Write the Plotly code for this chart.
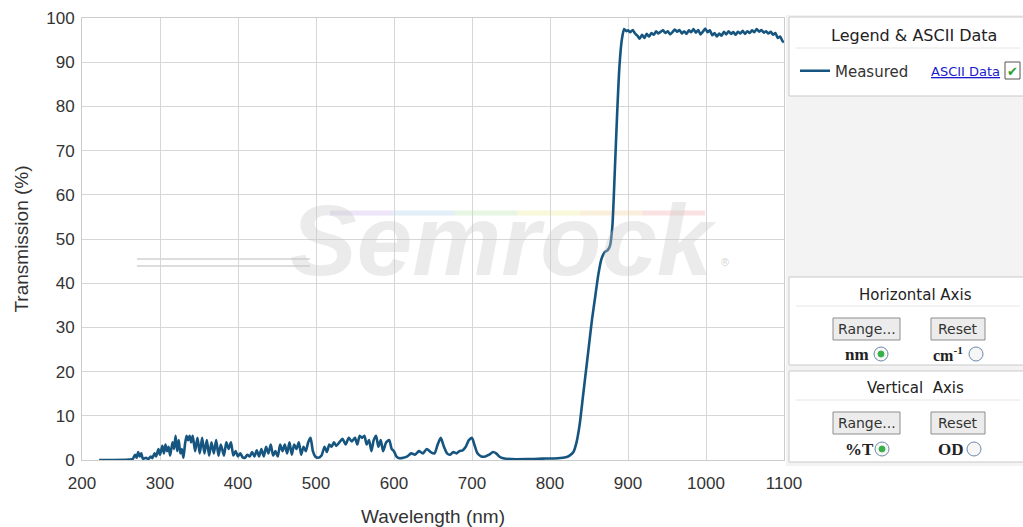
import plotly.graph_objects as go

# ---- data ----
wavelength_nm = [
    222, 240, 260, 265, 268, 270, 272, 274, 276, 278, 282, 285, 288, 290, 293, 295, 298, 300,
    303, 305, 307, 309, 311, 313, 316, 318, 320, 322, 324, 326, 328, 330, 332, 334, 336, 338,
    340, 342, 345, 348, 351, 354, 357, 360, 363, 366, 369, 372, 375, 378, 382, 385, 388, 391,
    394, 397, 400, 403, 406, 409, 412, 415, 418, 421, 424, 427, 430, 433, 436, 439, 442, 445,
    448, 451, 454, 457, 460, 463, 466, 469, 472, 475, 478, 481, 484, 487, 490, 493, 496, 499,
    503, 507, 511, 514, 517, 520, 523, 526, 530, 534, 538, 542, 546, 550, 553, 556, 559, 562,
    565, 568, 571, 574, 577, 580, 583, 586, 590, 594, 597, 600, 603, 607, 612, 617, 622, 627,
    632, 637, 642, 647, 652, 656, 660, 664, 668, 672, 676, 680, 684, 688, 692, 696, 700, 703,
    707, 712, 717, 722, 727, 731, 735, 740, 750, 770, 790, 810, 820, 825, 830, 834, 838, 842,
    846, 850, 854, 858, 862, 866, 870, 874, 877, 880, 883, 886, 889, 892, 895, 898,
    900, 903, 906, 909, 912, 915, 918, 921, 924, 927, 930, 933, 936, 939, 942, 945, 948, 951,
    954, 957, 960, 963, 966, 969, 972, 975, 978, 981, 984, 987, 990, 993, 996, 999, 1002, 1005,
    1008, 1011, 1014, 1017, 1020, 1023, 1026, 1029, 1032, 1035, 1038, 1041, 1044, 1047, 1050,
    1053, 1056, 1059, 1062, 1065, 1068, 1071, 1074, 1077, 1080, 1083, 1086, 1089, 1092, 1095,
    1098, 1100,
]
transmission_pct = [
    0.0, 0.0, 0.1, 0.2, 1.2, 0.5, 1.8, 0.8, 1.5, 0.3, 0.5, 0.2, 0.8, 0.4, 1.5, 0.8, 2.5, 1.2,
    3.2, 1.5, 3.5, 2.0, 3.0, 1.0, 4.0, 2.5, 5.5, 2.0, 4.5, 1.5, 2.5, 0.5, 3.5, 5.5, 4.5, 5.5,
    4.0, 5.5, 2.0, 5.0, 1.5, 5.0, 1.5, 4.5, 1.0, 4.0, 1.5, 4.5, 1.0, 3.5, 1.0, 4.0, 2.5, 4.0,
    1.0, 2.0, 0.8, 1.5, 0.6, 0.5, 1.2, 0.8, 1.8, 0.8, 2.2, 0.8, 2.5, 0.8, 3.0, 1.5, 3.5, 1.0,
    2.0, 0.8, 3.5, 2.0, 3.5, 1.5, 4.0, 1.2, 3.5, 2.5, 4.0, 1.2, 3.0, 2.0, 4.0, 5.0, 2.0, 0.8,
    0.5, 1.0, 3.0, 1.8, 3.5, 3.0, 4.0, 3.2, 4.0, 4.8, 3.5, 5.0, 4.2, 5.0, 3.5, 5.5, 5.0, 5.5,
    3.5, 4.5, 2.0, 4.5, 5.5, 3.0, 4.5, 2.0, 4.0, 4.5, 2.5, 2.0, 0.8, 0.4, 0.5, 0.8, 1.5, 1.2,
    2.0, 1.5, 2.5, 1.8, 1.5, 3.5, 5.0, 3.0, 1.5, 1.2, 1.8, 1.5, 2.0, 2.2, 3.0, 4.5, 5.0, 3.5,
    1.5, 0.8, 0.8, 1.2, 1.8, 1.5, 0.8, 0.4, 0.2, 0.2, 0.3, 0.4, 0.6, 1.0, 1.8, 4.0, 8.0, 14.0,
    20.0, 26.0, 32.0, 37.0, 42.0, 45.5, 47.0, 47.5, 48.5, 53.0, 65.0, 78.0, 89.0, 95.0, 97.5, 97.0,
    97.2, 96.8, 97.3, 96.5, 96.0, 95.3, 96.2, 95.5, 96.4, 95.8, 96.6, 96.2, 97.0, 96.5, 96.9, 97.2,
    96.6, 97.0, 96.3, 96.8, 97.4, 96.9, 97.3, 96.5, 97.0, 96.4, 97.2, 96.8, 97.5, 96.7, 97.3, 96.3,
    96.9, 97.6, 96.8, 97.2, 96.1, 96.6, 95.8, 96.5, 96.0, 96.9, 96.3, 97.0, 96.4, 96.8, 96.2, 96.9,
    96.5, 97.1, 96.4, 97.0, 96.6, 97.2, 96.8, 97.5, 96.9, 97.3, 96.7, 97.0, 96.5, 96.9, 96.2, 96.6,
    95.5, 95.8, 94.8, 94.5,
]
x_ticks = [200, 300, 400, 500, 600, 700, 800, 900, 1000, 1100]
y_ticks = [0, 10, 20, 30, 40, 50, 60, 70, 80, 90, 100]

# ---- layout geometry (pixels) ----
W, H = 1023, 527
L, R, T, B = 82, 784, 18, 460
FONT = "Liberation Sans, Arial, sans-serif"
PFONT = "DejaVu Sans, Verdana, sans-serif"
SERIF = "Liberation Serif, Times New Roman, serif"


def xp(px):
    return (px - L) / (R - L)


def yp(py):
    return (B - py) / (B - T)


fig = go.Figure()
fig.add_trace(go.Scatter(
    x=wavelength_nm, y=transmission_pct, mode="lines", name="Measured",
    line=dict(color="#16557f", width=2.6, shape="spline", smoothing=0.6),
))

shapes = []
annots = []


def rect(x0, y0, x1, y1, fill, line="#c9c9c9", lw=1, layer="above"):
    shapes.append(dict(type="rect", xref="paper", yref="paper",
                       x0=xp(x0), x1=xp(x1), y0=yp(y1), y1=yp(y0),
                       fillcolor=fill, line=dict(color=line, width=lw), layer=layer))


def hline(x0, x1, y, color, lw=1):
    shapes.append(dict(type="line", xref="paper", yref="paper",
                       x0=xp(x0), x1=xp(x1), y0=yp(y), y1=yp(y),
                       line=dict(color=color, width=lw)))


def text(x, y, s, size=14, color="#222", family=PFONT, xanchor="center"):
    annots.append(dict(xref="paper", yref="paper", x=xp(x), y=yp(y), text=s,
                       showarrow=False, xanchor=xanchor, yanchor="middle",
                       font=dict(size=size, color=color, family=family)))


def circle(cx, cy, r, fill, line):
    shapes.append(dict(type="circle", xref="paper", yref="paper",
                       x0=xp(cx - r), x1=xp(cx + r), y0=yp(cy + r), y1=yp(cy - r),
                       fillcolor=fill, line=dict(color=line, width=1)))


# watermark
wm_colors = ["#f4c0c0", "#f6dcb0", "#f2f0b0", "#c8ecc0", "#c0dcf0", "#d8c8f0"]
seg = (705 - 330) / len(wm_colors)
for i, c in enumerate(wm_colors[::-1]):
    shapes.append(dict(type="line", xref="paper", yref="paper",
                       x0=xp(330 + i * seg), x1=xp(330 + (i + 1) * seg), y0=yp(213), y1=yp(213),
                       line=dict(color=c, width=5), opacity=0.45, layer="below"))
for yy in (259, 266):
    shapes.append(dict(type="line", xref="paper", yref="paper",
                       x0=xp(137), x1=xp(310), y0=yp(yy), y1=yp(yy),
                       line=dict(color="#dddddd", width=2), layer="below"))
annots.append(dict(xref="paper", yref="paper", x=xp(503), y=yp(240), text="<b><i>Semrock</i></b>",
                   showarrow=False, xanchor="center", yanchor="middle",
                   font=dict(size=100, color="rgba(200,200,200,0.36)", family=FONT)))
text(725, 262, "®", size=11, color="rgba(190,190,190,0.7)", family=FONT)

# right-hand panel
rect(786, 15, 1030, 466, "#f3f3f3", line="#f3f3f3", lw=0)
# legend box
rect(789, 17, 1030, 96, "white")
text(914, 36, "Legend &amp; ASCII Data", size=16, color="#222")
hline(796, 1020, 48, "#e6e6e6")
text(929, 71, "<u>ASCII Data</u>", size=13, color="#1a1acc", xanchor="left")
rect(1005, 62, 1020, 79, "white", line="#555", lw=1)
text(1012.5, 71, "✔", size=13, color="#2aa02a")

# horizontal axis box
rect(789, 277, 1030, 365, "white")
text(915, 295, "Horizontal Axis", size=15, color="#222")
hline(796, 1020, 306, "#e6e6e6")
rect(833, 318, 900, 340, "#ececec", line="#8d8d8d")
text(866.5, 329, "Range...", size=14, color="#333")
rect(931, 318, 985, 340, "#ececec", line="#8d8d8d")
text(958, 329, "Reset", size=14, color="#333")
text(857, 354, "<b>nm</b>", size=17, color="#222", family=SERIF)
circle(881, 354, 7, "#f6f6f6", "#6c8aa8")
circle(881, 354, 3, "#38b048", "#38b048")
text(948, 354, "<b>cm<sup>-1</sup></b>", size=16, color="#222", family=SERIF)
circle(976, 354, 7, "#f6f6f6", "#6c8aa8")

# vertical axis box
rect(789, 371, 1030, 462, "white")
text(915, 388, "Vertical  Axis", size=15, color="#222")
hline(796, 1020, 400, "#e6e6e6")
rect(833, 412, 900, 434, "#ececec", line="#8d8d8d")
text(866.5, 423, "Range...", size=14, color="#333")
rect(931, 412, 985, 434, "#ececec", line="#8d8d8d")
text(958, 423, "Reset", size=14, color="#333")
text(859, 449, "<b>%T</b>", size=17, color="#222", family=SERIF)
circle(882, 449, 7, "#f6f6f6", "#6c8aa8")
circle(882, 449, 3, "#38b048", "#38b048")
text(951, 449, "<b>OD</b>", size=17, color="#222", family=SERIF)
circle(974, 449, 7, "#f6f6f6", "#6c8aa8")

fig.update_layout(
    width=W, height=H,
    margin=dict(l=L, r=W - R, t=T, b=H - B, autoexpand=False),
    paper_bgcolor="white", plot_bgcolor="white",
    font=dict(family=FONT, color="#333"),
    shapes=shapes, annotations=annots,
    showlegend=True,
    legend=dict(x=xp(795), y=yp(71), xanchor="left", yanchor="middle",
                bgcolor="rgba(0,0,0,0)", font=dict(size=15, color="#333", family=PFONT),
                itemwidth=30),
)
fig.update_xaxes(range=[200, 1100], tickvals=x_ticks, ticks="", showgrid=True,
                 gridcolor="#d6d6d6", showline=True, linecolor="#cccccc", mirror=True,
                 zeroline=False, tickfont=dict(size=17, color="#333"), automargin=False,
                 ticklabelstandoff=8,
                 title=dict(text="Wavelength (nm)", font=dict(size=19, color="#333"), standoff=20))
fig.update_yaxes(range=[0, 100], tickvals=y_ticks, ticks="", showgrid=True,
                 gridcolor="#d6d6d6", showline=True, linecolor="#cccccc", mirror=True,
                 zeroline=False, tickfont=dict(size=17, color="#333"), automargin=False,
                 ticklabelstandoff=3,
                 title=dict(text="Transmission (%)", font=dict(size=19, color="#333"), standoff=12))

fig.write_html(
    "out.html",
    config={"displayModeBar": False},
    post_script="document.body.style.margin='0';document.body.style.overflow='hidden';",
)
